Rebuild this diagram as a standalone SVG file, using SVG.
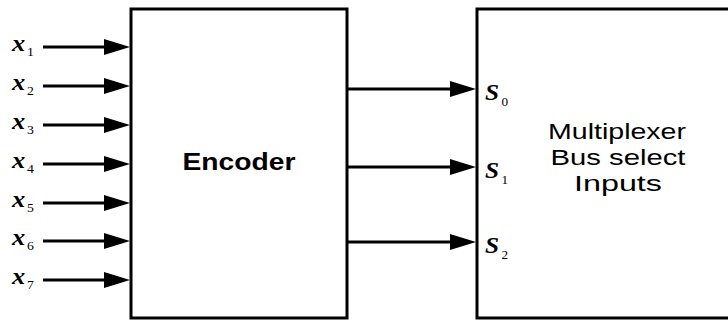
<svg xmlns="http://www.w3.org/2000/svg" width="728" height="320" viewBox="0 0 728 320">
  <defs>
    <style>
      .box { fill: #fff; stroke: #000; stroke-width: 3; }
      .wire { stroke: #000; stroke-width: 3; fill: none; marker-end: url(#head); }
      .var { font-family: "Liberation Serif", "Times New Roman", serif; font-weight: bold; font-style: italic; font-size: 23px; fill: #000; }
      .sub { font-family: "Liberation Serif", "Times New Roman", serif; font-size: 12px; fill: #000; }
      .label { font-family: "Liberation Sans", Arial, sans-serif; fill: #000; text-anchor: middle; }
    </style>
    <!-- arrowhead: base sits at the end of the wire, tip 26px further on -->
    <marker id="head" markerUnits="userSpaceOnUse" markerWidth="27" markerHeight="17" refX="0" refY="8" orient="auto">
      <path d="M0,0 L26,8 L0,16 Z" fill="#000"/>
    </marker>
  </defs>

  <rect width="728" height="320" fill="#fff"/>

  <!-- Encoder block -->
  <g id="encoder">
    <rect class="box" x="131" y="9" width="216" height="309"/>
    <text class="label" x="239" y="170" font-size="23" font-weight="bold" textLength="113" lengthAdjust="spacingAndGlyphs">Encoder</text>
  </g>

  <!-- Multiplexer select block (runs off the right edge) -->
  <g id="mux">
    <rect class="box" x="477" y="9" width="260" height="309"/>
    <text class="label" x="617" y="139" font-size="22" textLength="138" lengthAdjust="spacingAndGlyphs">Multiplexer</text>
    <text class="label" x="618" y="165" font-size="22" textLength="135" lengthAdjust="spacingAndGlyphs">Bus select</text>
    <text class="label" x="618" y="191" font-size="22" textLength="88" lengthAdjust="spacingAndGlyphs">Inputs</text>
  </g>

  <!-- input labels x1..x7 -->
  <g id="inputs">
    <g transform="translate(12,51) scale(1.15,1)"><text class="var">x</text><text class="sub" x="13" y="5">1</text></g>
    <g transform="translate(12,90) scale(1.15,1)"><text class="var">x</text><text class="sub" x="13" y="5">2</text></g>
    <g transform="translate(12,129) scale(1.15,1)"><text class="var">x</text><text class="sub" x="13" y="5">3</text></g>
    <g transform="translate(12,168) scale(1.15,1)"><text class="var">x</text><text class="sub" x="13" y="5">4</text></g>
    <g transform="translate(12,207) scale(1.15,1)"><text class="var">x</text><text class="sub" x="13" y="5">5</text></g>
    <g transform="translate(12,245) scale(1.15,1)"><text class="var">x</text><text class="sub" x="13" y="5">6</text></g>
    <g transform="translate(12,284) scale(1.15,1)"><text class="var">x</text><text class="sub" x="13" y="5">7</text></g>
  </g>

  <!-- select labels S0..S2 -->
  <g id="selects">
    <g transform="translate(485,100) scale(1.1,1)"><text class="var" font-size="25">S</text><text class="sub" x="15" y="6">0</text></g>
    <g transform="translate(485,178) scale(1.1,1)"><text class="var" font-size="25">S</text><text class="sub" x="15" y="6">1</text></g>
    <g transform="translate(485,253) scale(1.1,1)"><text class="var" font-size="25">S</text><text class="sub" x="15" y="6">2</text></g>
  </g>

  <!-- connectors -->
  <g id="connectors">
    <line class="wire" x1="43" y1="47" x2="104" y2="47"/>
    <line class="wire" x1="43" y1="86" x2="104" y2="86"/>
    <line class="wire" x1="43" y1="125" x2="104" y2="125"/>
    <line class="wire" x1="43" y1="164" x2="104" y2="164"/>
    <line class="wire" x1="43" y1="203" x2="104" y2="203"/>
    <line class="wire" x1="43" y1="241" x2="104" y2="241"/>
    <line class="wire" x1="43" y1="280" x2="104" y2="280"/>
    <line class="wire" x1="347" y1="89" x2="450" y2="89"/>
    <line class="wire" x1="347" y1="167" x2="450" y2="167"/>
    <line class="wire" x1="347" y1="242" x2="450" y2="242"/>
  </g>
</svg>
